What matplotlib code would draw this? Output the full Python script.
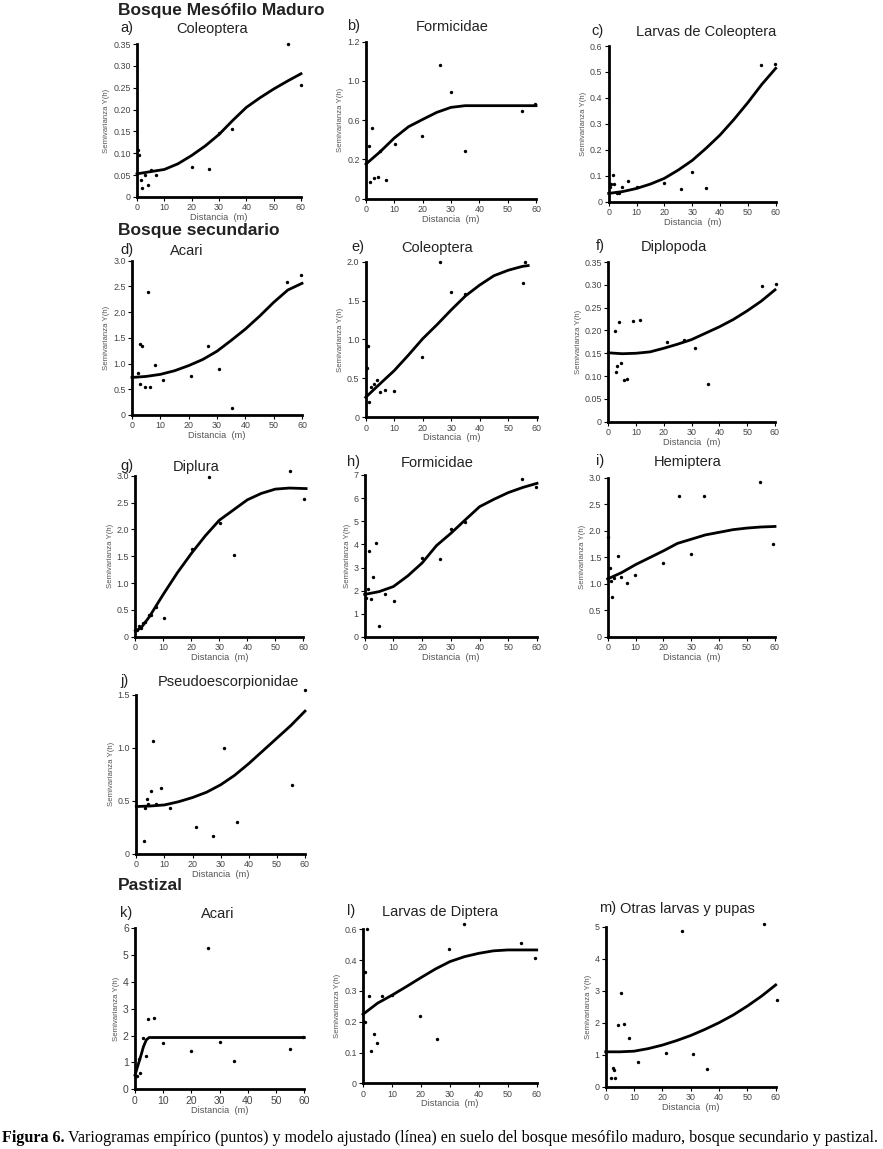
import matplotlib.pyplot as plt

W, H = 883, 1149
plt.rcParams['font.family'] = ['Liberation Sans', 'DejaVu Sans']

fit_dist = [0, 5, 10, 15, 20, 25, 30, 35, 40, 45, 50, 55, 60]

# --- Bosque Mesofilo Maduro ---
# a) Coleoptera
a_dist = [0.4, 0.85, 1.5, 2, 3, 3.9, 5, 7.1, 20, 26.2, 29.9, 34.9, 55.2, 60]
a_semi = [0.107, 0.095, 0.039, 0.021, 0.05, 0.027, 0.061, 0.05, 0.068, 0.065, 0.146, 0.156, 0.349, 0.256]
a_fit = [0.053, 0.058, 0.063, 0.076, 0.095, 0.117, 0.143, 0.175, 0.205, 0.227, 0.247, 0.265, 0.282]

# b) Formicidae (eje y con etiquetas 0, 0.2, 0.6, 1.0, 1.2 equiespaciadas)
b_dist = [0.94, 1.5, 2.1, 2.9, 4.1, 5.1, 6.9, 10.1, 19.9, 26, 29.9, 34.9, 54.9, 59.5]
b_semi = [0.405, 0.127, 0.543, 0.158, 0.168, 0.364, 0.143, 0.415, 0.476, 1.019, 0.818, 0.362, 0.667, 0.726]
b_fit = [0.265, 0.359, 0.464, 0.55, 0.606, 0.66, 0.698, 0.711, 0.711, 0.711, 0.711, 0.711, 0.711]

# c) Larvas de Coleoptera
c_dist = [0.5, 0.8, 1.4, 1.9, 2.9, 3.8, 4.8, 6.9, 10, 20, 25.9, 29.8, 35.1, 54.7, 59.8]
c_semi = [0.058, 0.067, 0.101, 0.068, 0.032, 0.032, 0.058, 0.08, 0.055, 0.072, 0.049, 0.113, 0.053, 0.525, 0.529]
c_fit = [0.032, 0.039, 0.051, 0.068, 0.09, 0.122, 0.159, 0.206, 0.257, 0.317, 0.382, 0.452, 0.514]

# --- Bosque secundario ---
# d) Acari
d_dist = [2, 2.7, 3.5, 2.9, 4.6, 5.5, 6.5, 8.2, 11.1, 20.9, 26.9, 30.6, 35.4, 54.8, 59.8]
d_semi = [0.81, 1.39, 1.34, 0.61, 0.54, 2.40, 0.54, 0.97, 0.69, 0.75, 1.35, 0.89, 0.14, 2.59, 2.73]
d_fit = [0.73, 0.75, 0.79, 0.86, 0.96, 1.08, 1.24, 1.45, 1.67, 1.92, 2.19, 2.43, 2.56]

# e) Coleoptera
e_dist = [0.35, 0.7, 1.3, 2, 2.8, 3.9, 4.9, 6.9, 9.9, 19.9, 26, 29.9, 34.9, 55.1, 55.9]
e_semi = [0.64, 0.92, 0.2, 0.39, 0.43, 0.475, 0.33, 0.35, 0.34, 0.775, 1.99, 1.61, 1.58, 1.73, 2.0]
e_fit_dist = [0, 5, 10, 15, 20, 25, 30, 35, 40, 45, 50, 55, 57]
e_fit = [0.257, 0.43, 0.60, 0.80, 1.01, 1.19, 1.38, 1.56, 1.70, 1.82, 1.89, 1.94, 1.95]

# f) Diplopoda
f_dist = [2.3, 2.6, 3.2, 3.8, 4.7, 5.5, 6.8, 8.8, 11.5, 21.1, 27.4, 31.1, 35.8, 55.4, 60.2]
f_semi = [0.1995, 0.110, 0.121, 0.218, 0.129, 0.091, 0.094, 0.221, 0.222, 0.174, 0.180, 0.161, 0.082, 0.298, 0.302]
f_fit = [0.151, 0.149, 0.150, 0.153, 0.161, 0.170, 0.180, 0.194, 0.208, 0.224, 0.243, 0.264, 0.289]

# g) Diplura
g_dist = [0.5, 1.3, 1.9, 2.9, 3.6, 4.8, 5.6, 7.3, 10.2, 20.2, 26.3, 30.4, 35.2, 55.4, 60.4]
g_semi = [0.124, 0.205, 0.155, 0.26, 0.28, 0.41, 0.40, 0.56, 0.34, 1.63, 2.98, 2.11, 1.52, 3.09, 2.57]
g_fit_dist = [0, 2, 5, 10, 15, 20, 25, 30, 35, 40, 45, 50, 55, 61]
g_fit = [0.11, 0.16, 0.37, 0.79, 1.19, 1.55, 1.88, 2.17, 2.36, 2.55, 2.67, 2.75, 2.77, 2.76]

# h) Formicidae
h_dist = [0.5, 1, 1.5, 2.1, 3, 4.1, 5, 7.1, 10.1, 20, 26.1, 30, 34.9, 54.9, 59.8]
h_semi = [1.70, 2.07, 3.72, 1.66, 2.58, 4.08, 0.49, 1.84, 1.57, 3.40, 3.39, 4.65, 4.96, 6.82, 6.46]
h_fit = [1.84, 1.96, 2.18, 2.64, 3.2, 3.95, 4.48, 5.06, 5.63, 5.95, 6.24, 6.46, 6.64]

# i) Hemiptera
i_dist = [0.25, 0.8, 1.3, 1.7, 2.4, 3.8, 4.8, 6.8, 9.8, 19.8, 25.7, 29.7, 34.6, 54.5, 59.4]
i_semi = [1.88, 1.29, 1.06, 0.74, 1.11, 1.53, 1.13, 1.02, 1.16, 1.40, 2.65, 1.56, 2.65, 2.92, 1.75]
i_fit = [1.09, 1.21, 1.36, 1.49, 1.62, 1.76, 1.84, 1.92, 1.97, 2.02, 2.05, 2.07, 2.08]

# j) Pseudoescorpionidae
j_dist = [2.7, 3.1, 3.7, 4.3, 5.1, 6, 7, 8.8, 11.9, 21.4, 27.4, 31.2, 35.9, 55.3, 60.1]
j_semi = [0.116, 0.43, 0.516, 0.47, 0.594, 1.063, 0.465, 0.62, 0.434, 0.255, 0.164, 0.997, 0.299, 0.648, 1.547]
j_fit = [0.445, 0.45, 0.46, 0.49, 0.53, 0.58, 0.65, 0.74, 0.85, 0.97, 1.09, 1.21, 1.345]

# --- Pastizal ---
# k) Acari
k_dist = [0.6, 1.9, 1.4, 3, 3.9, 4.7, 6.6, 9.9, 20, 26, 30, 35, 55, 59.5]
k_semi = [0.50, 0.61, 1.13, 1.93, 1.25, 2.61, 2.66, 1.73, 1.42, 5.25, 1.78, 1.07, 1.52, 1.95]
k_fit_dist = [0, 2, 3, 4, 5, 10, 20, 30, 40, 50, 60]
k_fit = [0.53, 1.22, 1.59, 1.84, 1.93, 1.93, 1.93, 1.93, 1.93, 1.93, 1.93]

# l) Larvas de Diptera (eje y con etiquetas 0 ... 0.4, 0.6 equiespaciadas)
l_dist = [0.6, 0.8, 1.3, 2, 2.9, 3.9, 4.8, 6.7, 9.9, 19.7, 25.7, 29.7, 34.8, 54.7, 59.3]
l_semi = [0.200, 0.361, 0.501, 0.284, 0.105, 0.160, 0.130, 0.284, 0.286, 0.219, 0.143, 0.435, 0.517, 0.455, 0.407]
l_fit = [0.224, 0.26, 0.286, 0.314, 0.343, 0.371, 0.395, 0.411, 0.422, 0.43, 0.433, 0.433, 0.433]

# m) Otras larvas y pupas
m_dist = [1.8, 2.5, 2.9, 3.4, 4.4, 5.4, 6.4, 8.2, 11.3, 21.2, 27.1, 30.9, 35.8, 55.8, 60.5]
m_semi = [0.26, 0.60, 0.52, 0.28, 1.93, 2.92, 1.96, 1.53, 0.78, 1.06, 4.875, 1.01, 0.54, 5.10, 2.71]
m_fit = [1.09, 1.09, 1.11, 1.19, 1.30, 1.44, 1.60, 1.79, 2.00, 2.24, 2.52, 2.83, 3.18]


fig = plt.figure(figsize=(W / 100, H / 100), dpi=100)


def fx(x):
    return x / W


def fy(y):
    return 1 - y / H


def panel(box, ymax, yticks, ylabels, dist, semi, fdist, fsemi, tick_fs=6.4):
    x0, x60, y0, ytop = box
    ax = fig.add_axes([fx(x0), fy(y0), (x60 - x0) / W, (y0 - ytop) / H])
    ax.set_xlim(0, 60)
    ax.set_ylim(0, ymax)
    for s in ['top', 'right']:
        ax.spines[s].set_visible(False)
    for s in ['left', 'bottom']:
        ax.spines[s].set_linewidth(2.0)
    ax.set_xticks(range(0, 61, 10))
    ax.set_yticks(yticks)
    ax.set_yticklabels(ylabels)
    ax.tick_params(length=3, width=0.8, labelsize=tick_fs, labelcolor='#444', pad=1.5)
    ax.plot(fdist, fsemi, color='black', lw=2, clip_on=False)
    ax.scatter(dist, semi, s=6, color='black', linewidths=0, clip_on=False, zorder=3)
    ax.set_ylabel('Semivarianza Y(h)', fontsize=5.6, color='#555', labelpad=2)
    ax.set_xlabel('Distancia  (m)', fontsize=6.7, color='#555', labelpad=0.5)
    return ax


def lab(x, y, letter, tx, title):
    fig.text(fx(x), fy(y), letter, fontsize=10.5, va='center', ha='left', color='#222')
    fig.text(fx(tx), fy(y + 1), title, fontsize=10.5, va='center', ha='center', color='#222')


def header(y, text):
    fig.text(fx(118), fy(y), text, fontsize=12.5, fontweight='bold', va='center', ha='left', color='#222')


def steps(a, b, n):
    return [round(a + (b - a) * k / n, 3) for k in range(n + 1)]


def labels(vals, fmt):
    return ['0' if v == 0 else fmt.format(v) for v in vals]


t035 = steps(0, 0.35, 7)
t30 = steps(0, 3.0, 6)

panel((137, 301, 197, 44), 0.35, t035, labels(t035, '{:.2f}'), a_dist, a_semi, fit_dist, a_fit)
panel((366, 536, 198.7, 41.7), 1.2, [0, 0.3, 0.6, 0.9, 1.2], ['0', '0.2', '0.6', '1.0', '1.2'],
      b_dist, b_semi, fit_dist, b_fit)
t06 = steps(0, 0.6, 6)
panel((608.7, 775.7, 201.7, 46), 0.6, t06, labels(t06, '{:.1f}'), c_dist, c_semi, fit_dist, c_fit)

panel((132, 302, 415, 260.7), 3.0, t30, labels(t30, '{:.1f}'), d_dist, d_semi, fit_dist, d_fit)
t20 = steps(0, 2.0, 4)
panel((365.7, 536.7, 417.3, 261.7), 2.0, t20, labels(t20, '{:.1f}'), e_dist, e_semi, e_fit_dist, e_fit)
panel((608.3, 775, 421.7, 262), 0.35, t035, labels(t035, '{:.2f}'), f_dist, f_semi, fit_dist, f_fit)

panel((135.3, 303.3, 636.7, 475.7), 3.0, t30, labels(t30, '{:.1f}'), g_dist, g_semi, g_fit_dist, g_fit)
panel((364.7, 537, 637, 475), 7, list(range(8)), [str(v) for v in range(8)], h_dist, h_semi, fit_dist, h_fit)
panel((607.7, 775, 636.7, 477.7), 3.0, t30, labels(t30, '{:.1f}'), i_dist, i_semi, fit_dist, i_fit)

t15 = steps(0, 1.5, 3)
panel((136.3, 305, 853.7, 694.7), 1.5, t15, labels(t15, '{:.1f}'), j_dist, j_semi, fit_dist, j_fit)

panel((135, 304.3, 1089.3, 928.3), 6, list(range(7)), [str(v) for v in range(7)],
      k_dist, k_semi, k_fit_dist, k_fit, tick_fs=7.5)
panel((363, 536.7, 1083.3, 929.3), 0.5, steps(0, 0.5, 5), ['0', '0.1', '0.2', '0.3', '0.4', '0.6'],
      l_dist, l_semi, fit_dist, l_fit)
panel((605.7, 775.7, 1086.7, 926.7), 5, list(range(6)), [str(v) for v in range(6)],
      m_dist, m_semi, fit_dist, m_fit)

header(10, 'Bosque Mesófilo Maduro')
header(230, 'Bosque secundario')
header(885, 'Pastizal')

lab(120, 28, 'a)', 212, 'Coleoptera')
lab(347, 26, 'b)', 452, 'Formicidae')
lab(591, 31, 'c)', 706, 'Larvas de Coleoptera')
lab(120, 250, 'd)', 187, 'Acari')
lab(351, 247, 'e)', 437, 'Coleoptera')
lab(596, 246, 'f)', 674, 'Diplopoda')
lab(120, 466, 'g)', 196, 'Diplura')
lab(347, 462, 'h)', 437, 'Formicidae')
lab(596, 461, 'i)', 688, 'Hemiptera')
lab(120, 681, 'j)', 228, 'Pseudoescorpionidae')
lab(120, 913, 'k)', 218, 'Acari')
lab(347, 911, 'l)', 440, 'Larvas de Diptera')
lab(599, 908, 'm)', 687, 'Otras larvas y pupas')

# caption
cap_y = fy(1138)
t1 = fig.text(fx(2), cap_y, 'Figura 6.', fontsize=11.6, fontweight='bold', family='Liberation Serif',
              va='center', ha='left')
rend = fig.canvas.get_renderer()
bb = t1.get_window_extent(rend)
fig.text((bb.x1 + 3) / W, cap_y,
         'Variogramas empírico (puntos) y modelo ajustado (línea) en suelo del bosque mesófilo maduro, '
         'bosque secundario y pastizal.',
         fontsize=11.6, family='Liberation Serif', va='center', ha='left')

fig.savefig('out.png', dpi=100)
